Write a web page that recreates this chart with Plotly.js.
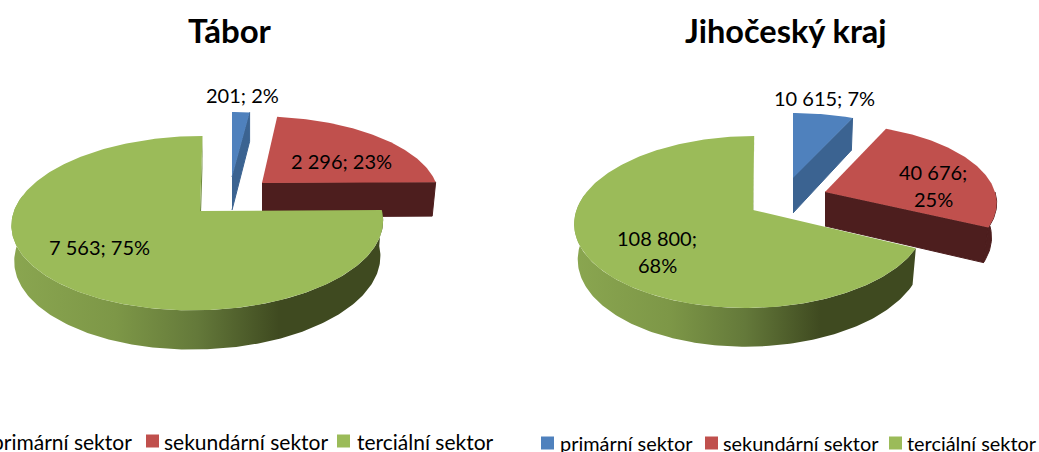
<!DOCTYPE html>
<html><head><meta charset="utf-8">
<script src="https://cdn.plot.ly/plotly-3.0.1.min.js"></script>
<style>html,body{margin:0;padding:0;background:#fff;overflow:hidden}</style></head>
<body><div id="chart" style="width:1039px;height:452px"></div>
<script>
// ---- data ----
const sectors = ['primární sektor', 'sekundární sektor', 'terciální sektor'];
const taborTitle = 'Tábor';
const taborValues = [201, 2296, 7563];
const krajTitle = 'Jihočeský kraj';
const krajValues = [10615, 40676, 108800];

// ---- styles ----
const topColors = ['#4F81BD', '#C0504D', '#9BBB59'];
const wallColors = ['#3B6391', '#4D1E1E', '#3F4A20'];
const legendColors = ['#4F81BD', '#C0504D', '#9BBB59'];
const FONT = 'Lato, Carlito, Calibri, sans-serif';

// ---- 3D projection settings (pixel-like axes 0..1039 / 452..0) ----
const K = 0.1395;
const taborGeom = {
  title: [230, 30], titleSize: 33,
  slices: [
    {apex: [232, 177], cx: 232, B: 160, A: 74, s: 0, d: 33, k: 1, color: 0},
    {apex: [262, 183], cx: 262, B: 174, A: 76, s: -0.06, d: 34, k: 0.98, color: 1},
    {apex: [200, 211], cx: 198, B: 184, A: 85.5, s: 0.06, d: 35, k: 0.985, color: 2}
  ],
  labels: [[242, 95], [341, 161], [99, 247]], breaks: [false, false, false]
};
const krajGeom = {
  title: [786, 30], titleSize: 32.5,
  slices: [
    {apex: [793, 178], cx: 793, B: 166, A: 74, s: 0, d: 35, k: 0.98, color: 0},
    {apex: [825, 192], cx: 825, B: 170, A: 78, s: 0, d: 34, k: 0.97, color: 1},
    {apex: [753, 210], cx: 750.5, B: 174, A: 84.3, s: 0.05, d: 35, k: 0.98, color: 2}
  ],
  labels: [[824, 98], [933, 172], [657, 238]], breaks: [false, true, true]
};
const legendTabor = {y: 441, swatch: [null, 152.5, 343.5], textStart: [null, 163, 356], cutEnd: 134, font: 21};
const legendKraj = {y: 443, swatch: [547.5, 711.5, 895.5], textStart: [559, 722, 906], font: 19.9};

// ---- geometry from values ----
function edge(sl, phi) {
  const u = Math.sin(phi), v = Math.cos(phi), w = 1 + K * v;
  const Y = sl.A * v / w;
  return {x: sl.cx + sl.B * u / w + sl.s * Y, y: sl.apex[1] - Y, w};
}
function lower(sl, p) {
  return {
    x: sl.apex[0] + sl.k * (p.x - sl.apex[0]),
    y: sl.apex[1] + sl.k * (p.y - sl.apex[1]) + sl.d / p.w
  };
}
function poly(pts, color, extra, lw) {
  return Object.assign({
    x: pts.map(p => p.x), y: pts.map(p => p.y),
    type: 'scatter', mode: 'lines', fill: 'toself', fillcolor: color,
    line: {width: lw || 0, color: color}, hoverinfo: 'skip', showlegend: false
  }, extra || {});
}
function arcPts(sl, a, b) {
  const n = Math.max(2, Math.ceil(Math.abs(b - a) * 180 / Math.PI));
  const out = [];
  for (let i = 0; i <= n; i++) out.push(edge(sl, a + (b - a) * i / n));
  return out;
}
function buildPie(values, geom) {
  const total = values.reduce((a, b) => a + b, 0);
  const traces = [];
  let acc = 0;
  const angles = values.map(v => { const a = acc; acc += v; return [a / total * 2 * Math.PI, acc / total * 2 * Math.PI]; });
  [1, 0, 2].forEach(i => {
    const sl = geom.slices[i], [a, b] = angles[i];
    const col = sl.color;
    const apexP = {x: sl.apex[0], y: sl.apex[1], w: 1};
    // cut wall at the clockwise end of the slice
    const pe = edge(sl, b);
    traces.push(poly([apexP, pe, lower(sl, pe), {x: sl.apex[0], y: sl.apex[1] + sl.d}], i === 2 ? '#6F8A3E' : wallColors[col], {}, i === 2 ? 0 : 1));
    // outer wall: only the part facing the viewer
    const wa = Math.max(a, Math.PI / 2), wb = Math.min(b, Math.PI * 1.56);
    if (wb > wa) {
      const up = arcPts(sl, wa, wb);
      const lo = up.map(p => lower(sl, p)).reverse();
      const extra = i === 2 ? {fillgradient: {type: 'horizontal', colorscale: [
        [0, '#8AA650'], [0.28, '#7D9747'], [0.5, '#64793A'], [0.72, '#3F4A20'], [1, '#3F4A20']]}} : {};
      traces.push(poly(up.concat(lo), wallColors[col], extra, i === 2 ? 0 : 1));
    }
    // top face
    traces.push(poly([apexP].concat(arcPts(sl, a, b)), topColors[col]));
  });
  return {traces, total};
}
const fmt = v => String(v).replace(/\B(?=(\d{3})+$)/g, '\u00A0');

const data = [], annotations = [];
[[taborValues, taborGeom, taborTitle], [krajValues, krajGeom, krajTitle]].forEach(([vals, geom, title]) => {
  const r = buildPie(vals, geom);
  data.push(...r.traces);
  annotations.push({x: geom.title[0], y: geom.title[1], xref: 'x', yref: 'y', text: '<b>' + title + '</b>',
    showarrow: false, font: {family: FONT, size: geom.titleSize, color: '#000'}});
  vals.forEach((v, i) => {
    const pct = Math.round(v / r.total * 100) + '%';
    const lines = geom.breaks[i] ? [fmt(v) + ';', pct] : [fmt(v) + '; ' + pct];
    lines.forEach((t, j) => annotations.push({x: geom.labels[i][0], y: geom.labels[i][1] + j * 27, xref: 'x', yref: 'y',
      text: t, showarrow: false, font: {family: FONT, size: 20, color: '#000'}}));
  });
});
[legendTabor, legendKraj].forEach(lg => {
  sectors.forEach((name, i) => {
    const font = {family: FONT, size: lg.font, color: '#000'};
    if (lg.swatch[i] === null) {
      // the reference's left legend runs off the page: its first swatch is gone, its text is cut
      annotations.push({x: lg.cutEnd, y: lg.y, xref: 'x', yref: 'y', xanchor: 'right', text: name, showarrow: false, font});
      return;
    }
    data.push({
      x: [lg.swatch[i]], y: [lg.y], name,
      type: 'scatter', mode: 'markers', cliponaxis: false,
      marker: {symbol: 'square', size: 13, color: legendColors[i]},
      hoverinfo: 'skip', showlegend: false
    });
    annotations.push({x: lg.textStart[i], y: lg.y, xref: 'x', yref: 'y', xanchor: 'left', text: name, showarrow: false,
      xshift: -1, font});
  });
});

Plotly.newPlot('chart', data, {
  width: 1039, height: 452, margin: {l: 0, r: 0, t: 0, b: 0, autoexpand: false},
  paper_bgcolor: '#fff', plot_bgcolor: '#fff', showlegend: false,
  xaxis: {range: [0, 1039], visible: false, fixedrange: true},
  yaxis: {range: [452, 0], visible: false, fixedrange: true},
  annotations
}, {displayModeBar: false, staticPlot: true});
</script></body></html>
